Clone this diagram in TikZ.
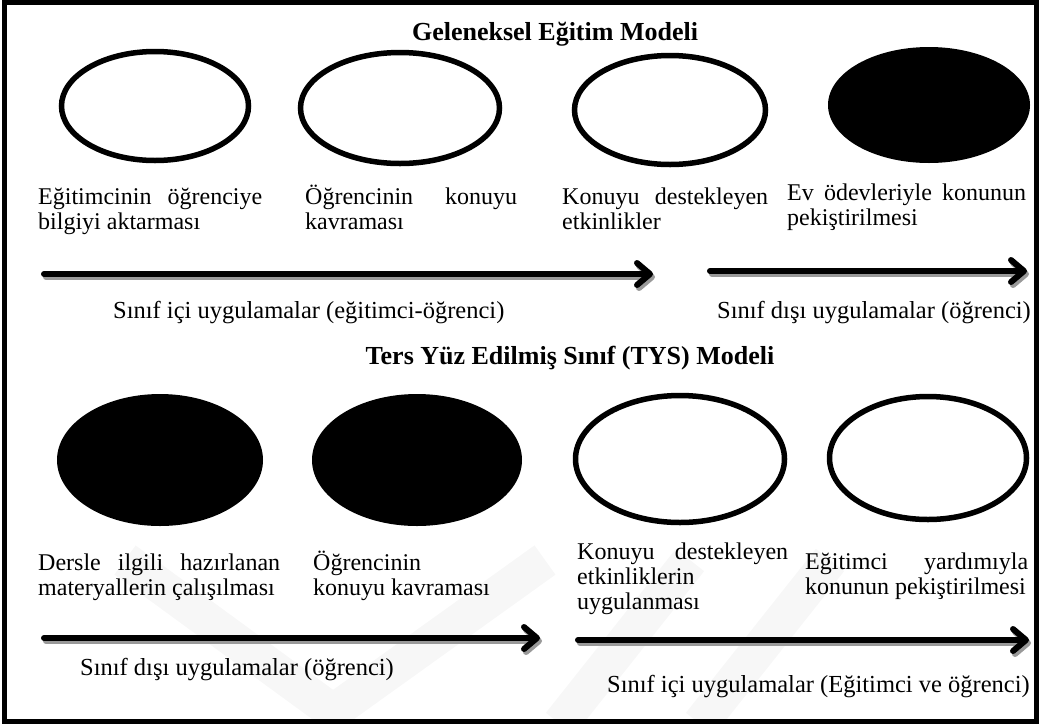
\documentclass[tikz,border=0pt]{standalone}
\usepackage{fontspec}
\setmainfont{Liberation Serif}
\usetikzlibrary{shapes.geometric,arrows.meta}

% fixed top of the first line of a text block
\newcommand\topline{\rule{0pt}{22pt}}
% one justified line of a given width
\newcommand\jl[2]{\hbox to #1{\topline #2}}

\begin{document}
\begin{tikzpicture}[x=1pt,y=-1pt,
  oval/.style={ellipse, draw=black, line width=5.5pt, fill=white, inner sep=0pt},
  solidoval/.style={ellipse, fill=black, inner sep=0pt},
  txt/.style={inner sep=0pt, align=left, anchor=north west, font=\fontsize{24}{25}\selectfont},
  lbl/.style={inner sep=0pt, anchor=base west, font=\fontsize{24.5}{25}\selectfont},
  ttl/.style={inner sep=0pt, anchor=base, font=\fontsize{26}{28}\selectfont\bfseries},
  flow/.style={line width=6pt, line cap=round, draw=black,
    -{Straight Barb[length=13pt,width=22pt,round]}},
  flowshadow/.style={flow, draw=black!40},
  mark wm/.style={line width=36pt, draw=black!3},
]
\useasboundingbox (0,0) rectangle (1039,724);

% faint background emblem
\begin{scope}
  \clip (7,5) rectangle (1033,719);
  \draw[mark wm] (125,560) -- (333,712) -- (545,560);
  \draw[mark wm] (560,724) -- (690,560);
  \draw[mark wm] (700,724) -- (830,560);
\end{scope}

% frame
\draw[line width=5pt] (4.5,2.5) rectangle (1036,721.5);

% titles
\node[ttl] (title1) at (555,40) {Geleneksel Eğitim Modeli};
\node[ttl] (title2) at (570,364) {Ters Yüz Edilmiş Sınıf (TYS) Modeli};

% traditional model
\node[oval, minimum width=187pt, minimum height=109pt] (e1) at (155,106) {};
\node[oval, minimum width=199pt, minimum height=111pt] (e2) at (400,108) {};
\node[oval, minimum width=191pt, minimum height=109pt] (e3) at (670,110) {};
\node[solidoval, minimum width=202pt, minimum height=116pt] (e4) at (929,105) {};

\node[txt] (t1) at (38,182) {\jl{224pt}{Eğitimcinin\hfill öğrenciye}\\bilgiyi aktarması};
\node[txt] (t2) at (305,182) {\jl{212pt}{Öğrencinin\hfill konuyu}\\kavraması};
\node[txt] (t3) at (562,182) {\jl{206pt}{Konuyu\hfill destekleyen}\\etkinlikler};
\node[txt] (t4) at (787,178) {\jl{239pt}{Ev\hfill ödevleriyle\hfill konunun}\\pekiştirilmesi};

\coordinate (a1s) at (44,274);
\coordinate (a1e) at (653,274);
\coordinate (a2s) at (710,271);
\coordinate (a2e) at (1027,271);
\draw[flowshadow] ([shift={(2,3)}]a1s) -- ([shift={(2,3)}]a1e);
\draw[flow] (a1s) -- (a1e);
\draw[flowshadow] ([shift={(2,3)}]a2s) -- ([shift={(2,3)}]a2e);
\draw[flow] (a2s) -- (a2e);

\node[lbl] (l1) at (113,318) {Sınıf içi uygulamalar (eğitimci-öğrenci)};
\node[lbl] (l2) at (717,318) {Sınıf dışı uygulamalar (öğrenci)};

% flipped classroom model
\node[solidoval, minimum width=206pt, minimum height=132pt] (e5) at (160,460) {};
\node[solidoval, minimum width=210pt, minimum height=132pt] (e6) at (417,460) {};
\node[oval, minimum width=209pt, minimum height=127pt] (e7) at (680,459) {};
\node[oval, minimum width=197pt, minimum height=123pt] (e8) at (928,458) {};

\node[txt] (t5) at (38,548) {\jl{242pt}{Dersle\hfill ilgili\hfill hazırlanan}\\materyallerin çalışılması};
\node[txt] (t6) at (313,548) {\topline Öğrencinin\\konuyu kavraması};
\node[txt] (t7) at (577,537) {\jl{211pt}{Konuyu\hfill destekleyen}\\etkinliklerin\\uygulanması};
\node[txt] (t8) at (805,547) {\jl{223pt}{Eğitimci\hfill yardımıyla}\\konunun pekiştirilmesi};

\coordinate (a3s) at (44,638);
\coordinate (a3e) at (540,638);
\coordinate (a4s) at (578,640);
\coordinate (a4e) at (1029,640);
\draw[flowshadow] ([shift={(2,3)}]a3s) -- ([shift={(2,3)}]a3e);
\draw[flow] (a3s) -- (a3e);
\draw[flowshadow] ([shift={(2,3)}]a4s) -- ([shift={(2,3)}]a4e);
\draw[flow] (a4s) -- (a4e);

\node[lbl] (l3) at (80,675) {Sınıf dışı uygulamalar (öğrenci)};
\node[lbl] (l4) at (607,692) {Sınıf içi uygulamalar (Eğitimci ve öğrenci)};
\end{tikzpicture}
\end{document}
